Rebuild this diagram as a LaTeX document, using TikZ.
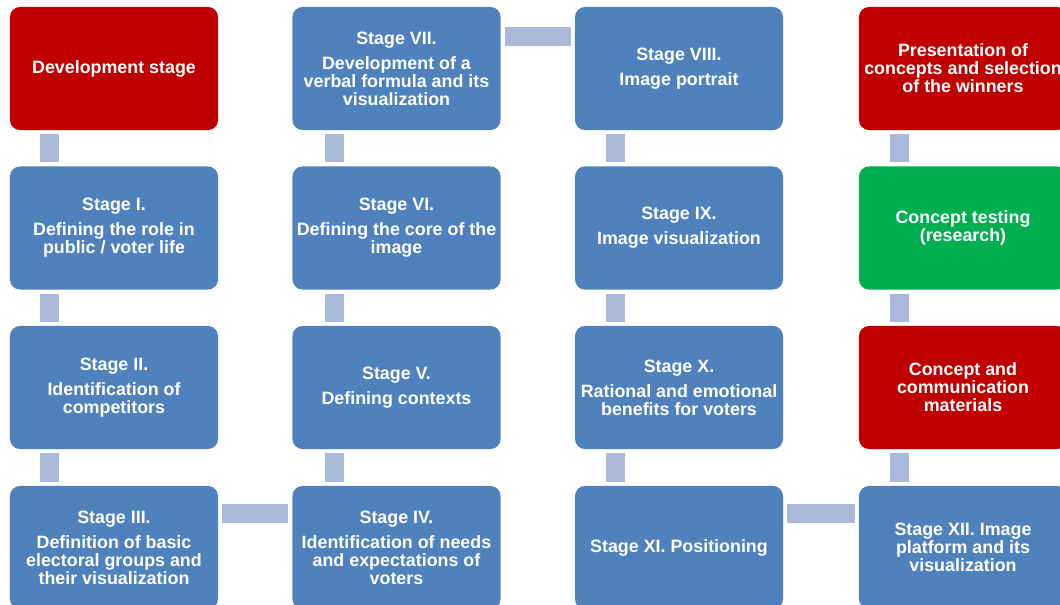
\documentclass[tikz,border=0pt]{standalone}
\usepackage{fontspec}
\setmainfont{Liberation Sans}
\definecolor{stageblue}{RGB}{79,129,189}
\definecolor{stagered}{RGB}{192,0,0}
\definecolor{stagegreen}{RGB}{0,176,80}
\definecolor{linkgray}{RGB}{170,185,215}
\tikzset{
  stagebox/.style={rectangle, rounded corners=0.25cm, fill=stageblue, text=white,
    minimum width=5.2cm, minimum height=3.075cm, inner sep=0pt, align=center,
    font=\fontsize{12.7}{12.8}\selectfont\bfseries},
  redbox/.style={stagebox, fill=stagered},
  greenbox/.style={stagebox, fill=stagegreen},
  link/.style={draw=linkgray, line width=0.475cm, shorten <=0.1cm, shorten >=0.1cm},
}
\begin{document}
\begin{tikzpicture}[x=0.025cm, y=-0.025cm]
  \useasboundingbox (0,0) rectangle (1060,605);
  % first column
  \node[redbox] (dev) at (114,68.5) {Development stage};
  \node[stagebox] (s1) at (114,228) {Stage I.\\[5pt]Defining the role in\\public / voter life};
  \node[stagebox] (s2) at (114,387.5) {Stage II.\\[5pt]Identification of\\competitors};
  \node[stagebox] (s3) at (114,547.5) {Stage III.\\[5pt]Definition of basic\\electoral groups and\\their visualization};
  % second column
  \node[stagebox] (s7) at (396.5,68.5) {Stage VII.\\[5pt]Development of a\\verbal formula and its\\visualization};
  \node[stagebox] (s6) at (396.5,228) {Stage VI.\\[5pt]Defining the core of the\\image};
  \node[stagebox] (s5) at (396.5,387.5) {Stage V.\\[5pt]Defining contexts};
  \node[stagebox] (s4) at (396.5,547.5) {Stage IV.\\[5pt]Identification of needs\\and expectations of\\voters};
  % third column
  \node[stagebox] (s8) at (679,68.5) {Stage VIII.\\[5pt]Image portrait};
  \node[stagebox] (s9) at (679,228) {Stage IX.\\[5pt]Image visualization};
  \node[stagebox] (s10) at (679,387.5) {Stage X.\\[5pt]Rational and emotional\\benefits for voters};
  \node[stagebox] (s11) at (679,547.5) {Stage XI. Positioning};
  % fourth column
  \node[redbox] (pres) at (963,68.5) {Presentation of\\concepts and selection\\of the winners};
  \node[greenbox] (test) at (963,228) {Concept testing\\(research)};
  \node[redbox] (conc) at (963,387.5) {Concept and\\communication\\materials};
  \node[stagebox] (s12) at (963,547.5) {Stage XII. Image\\platform and its\\visualization};

  % vertical links
  \draw[link] ([xshift=1cm]dev.south west) -- ([xshift=1cm]s1.north west);
  \draw[link] ([xshift=1cm]s1.south west) -- ([xshift=1cm]s2.north west);
  \draw[link] ([xshift=1cm]s2.south west) -- ([xshift=1cm]s3.north west);
  \draw[link] ([xshift=1.05cm]s7.south west) -- ([xshift=1.05cm]s6.north west);
  \draw[link] ([xshift=1.05cm]s6.south west) -- ([xshift=1.05cm]s5.north west);
  \draw[link] ([xshift=1.05cm]s5.south west) -- ([xshift=1.05cm]s4.north west);
  \draw[link] ([xshift=1.02cm]s8.south west) -- ([xshift=1.02cm]s9.north west);
  \draw[link] ([xshift=1.02cm]s9.south west) -- ([xshift=1.02cm]s10.north west);
  \draw[link] ([xshift=1.02cm]s10.south west) -- ([xshift=1.02cm]s11.north west);
  \draw[link] ([xshift=1.02cm]pres.south west) -- ([xshift=1.02cm]test.north west);
  \draw[link] ([xshift=1.02cm]test.south west) -- ([xshift=1.02cm]conc.north west);
  \draw[link] ([xshift=1.02cm]conc.south west) -- ([xshift=1.02cm]s12.north west);
  % horizontal links
  \draw[link] ([yshift=-0.69cm]s3.north east) -- ([yshift=-0.69cm]s4.north west);
  \draw[link] ([yshift=-0.75cm]s7.north east) -- ([yshift=-0.75cm]s8.north west);
  \draw[link] ([yshift=-0.69cm]s11.north east) -- ([yshift=-0.69cm]s12.north west);
\end{tikzpicture}
\end{document}
